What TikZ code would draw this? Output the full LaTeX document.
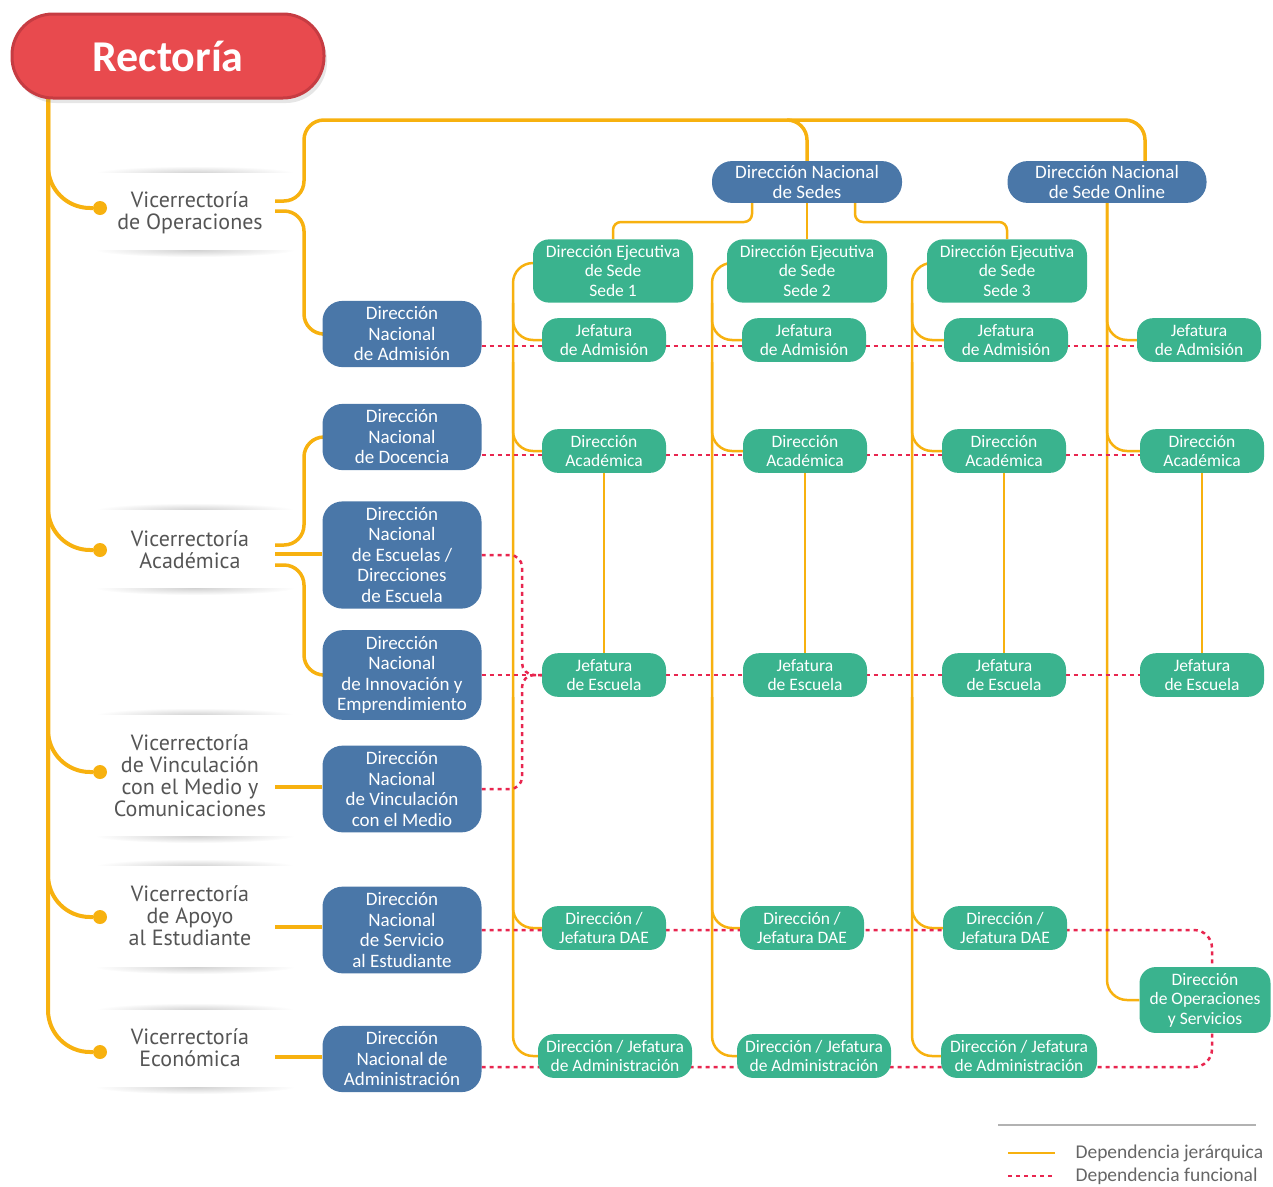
\documentclass[tikz,border=0pt]{standalone}
\usepackage{fontspec}
\setmainfont{Carlito}
\newfontfamily\vicefont{PT Sans}
\usetikzlibrary{positioning,calc,backgrounds,shadows}

\definecolor{hiercol}{HTML}{F7B10F}
\definecolor{funccol}{HTML}{E8264F}
\definecolor{bluebox}{HTML}{4A77A8}
\definecolor{greenbox}{HTML}{3AB38E}
\definecolor{rectred}{HTML}{E84A4E}
\definecolor{rectdark}{HTML}{C63C42}
\definecolor{vicegray}{HTML}{555555}

\tikzstyle{rector} = [rectangle, rounded corners=41pt, fill=rectred, draw=rectdark, line width=3pt,
    minimum width=312pt, minimum height=84pt, text=white, font=\fontsize{44}{44}\selectfont\bfseries,
    drop shadow={opacity=0.2, shadow xshift=3pt, shadow yshift=-5pt}]
\tikzstyle{vice} = [text=vicegray, align=center, minimum width=170pt, inner sep=0pt,
    font=\vicefont\fontsize{22}{22}\selectfont]
\tikzstyle{nacional} = [rectangle, rounded corners=20pt, fill=bluebox, text=white, align=center,
    minimum width=159pt, inner sep=6pt, font=\fontsize{19}{20.5}\selectfont]
\tikzstyle{sede} = [rectangle, rounded corners=16pt, fill=greenbox, text=white, align=center,
    minimum width=124pt, inner sep=6pt, font=\fontsize{17.5}{19.5}\selectfont]
\tikzstyle{dot} = [circle, fill=hiercol, inner sep=0pt, minimum size=14pt]
\tikzstyle{hier} = [draw=hiercol, line width=3.5pt]
\tikzstyle{hiersub} = [draw=hiercol, line width=2.5pt]
\tikzstyle{func} = [draw=funccol, line width=2.5pt, dash pattern=on 4pt off 4pt]
\tikzstyle{card} = [fill=white]
\tikzstyle{cardshade} = [inner color=black!18, outer color=white]
\tikzstyle{legendtext} = [anchor=west, text=black!60, font=\fontsize{19.5}{20}\selectfont]

\begin{document}
\begin{tikzpicture}[x=1pt,y=-1pt]
    \useasboundingbox (0,0) rectangle (1273,1186);

    % Place nodes
    \node[rector] (rect) at (168,56) {Rectoría};

    \node[vice] (vo) at (190,213) {Vicerrectoría\\de Operaciones};
    \node[vice] (va) at (190,550) {Vicerrectoría\\Académica};
    \node[vice] (vv) at (190,776) {Vicerrectoría\\de Vinculación\\con el Medio y\\Comunicaciones};
    \node[vice] (vae) at (190,916) {Vicerrectoría\\de Apoyo\\al Estudiante};
    \node[vice] (vec) at (190,1048) {Vicerrectoría\\Económica};

    \node[dot] (dvo) at (100,208) {};
    \node[dot] (dva) at (100,550) {};
    \node[dot] (dvv) at (100,772) {};
    \node[dot] (dvae) at (100,917) {};
    \node[dot] (dvec) at (100,1052) {};

    \node[nacional] (adm) at (402,334) {Dirección\\Nacional\\de Admisión};
    \node[nacional] (doc) at (402,437) {Dirección\\Nacional\\de Docencia};
    \node[nacional] (esc) at (402,555) {Dirección\\Nacional\\de Escuelas /\\Direcciones\\de Escuela};
    \node[nacional] (inn) at (402,675) {Dirección\\Nacional\\de Innovación y\\Emprendimiento};
    \node[nacional] (vin) at (402,789) {Dirección\\Nacional\\de Vinculación\\con el Medio};
    \node[nacional] (serv) at (402,930) {Dirección\\Nacional\\de Servicio\\al Estudiante};
    \node[nacional] (dnadm) at (402,1059) {Dirección\\Nacional de\\Administración};
    \node[nacional,minimum width=190pt,inner sep=4pt] (sedes) at (807,182) {Dirección Nacional\\de Sedes};
    \node[nacional,minimum width=199pt,inner sep=4pt] (online) at (1107,182) {Dirección Nacional\\de Sede Online};

    \node[sede,minimum width=160pt] (des1) at (613,271) {Dirección Ejecutiva\\de Sede\\Sede 1};
    \node[sede,minimum width=160pt] (des2) at (807,271) {Dirección Ejecutiva\\de Sede\\Sede 2};
    \node[sede,minimum width=160pt] (des3) at (1007,271) {Dirección Ejecutiva\\de Sede\\Sede 3};

    \node[sede] (ja1) at (604,340) {Jefatura\\de Admisión};
    \node[sede,right of=ja1,node distance=200pt] (ja2) {Jefatura\\de Admisión};
    \node[sede,right of=ja2,node distance=202pt] (ja3) {Jefatura\\de Admisión};
    \node[sede,right of=ja3,node distance=193pt] (ja4) {Jefatura\\de Admisión};

    \node[sede] (da1) at (604,451) {Dirección\\Académica};
    \node[sede] (da2) at (805,451) {Dirección\\Académica};
    \node[sede] (da3) at (1004,451) {Dirección\\Académica};
    \node[sede] (da4) at (1202,451) {Dirección\\Académica};

    \node[sede,below of=da1,node distance=224pt] (je1) {Jefatura\\de Escuela};
    \node[sede,below of=da2,node distance=224pt] (je2) {Jefatura\\de Escuela};
    \node[sede,below of=da3,node distance=224pt] (je3) {Jefatura\\de Escuela};
    \node[sede,below of=da4,node distance=224pt] (je4) {Jefatura\\de Escuela};

    \node[sede] (dae1) at (604,928) {Dirección /\\Jefatura DAE};
    \node[sede] (dae2) at (802,928) {Dirección /\\Jefatura DAE};
    \node[sede] (dae3) at (1005,928) {Dirección /\\Jefatura DAE};
    \node[sede,minimum width=131pt] (dos) at (1205,1000) {Dirección\\de Operaciones\\y Servicios};

    \node[sede,minimum width=154pt] (dja1) at (615,1056) {Dirección / Jefatura\\de Administración};
    \node[sede,minimum width=154pt] (dja2) at (814,1056) {Dirección / Jefatura\\de Administración};
    \node[sede,minimum width=156pt] (dja3) at (1019,1056) {Dirección / Jefatura\\de Administración};

    \node[legendtext] (lhier) at (1072,1153) {Dependencia jerárquica};
    \node[legendtext] (lfunc) at (1072,1176) {Dependencia funcional};

    \coordinate (spine) at (48,98);
    \coordinate (topbus) at (304,120);
    \coordinate (sbus) at (0,222);
    \coordinate (col1) at (513,0);
    \coordinate (col2) at (712,0);
    \coordinate (col3) at (912,0);
    \coordinate (fbus) at (522,0);

    \begin{pgfonlayer}{background}
    % Cards behind the Vicerrectorias
    \shade[cardshade] (195,173) ellipse (100 and 7); \shade[cardshade] (195,250) ellipse (100 and 7);
    \fill[card] (95,173) rectangle (295,250);
    \shade[cardshade] (195,510) ellipse (100 and 7); \shade[cardshade] (195,588) ellipse (100 and 7);
    \fill[card] (95,510) rectangle (295,588);
    \shade[cardshade] (195,715) ellipse (100 and 7); \shade[cardshade] (195,836) ellipse (100 and 7);
    \fill[card] (95,715) rectangle (295,836);
    \shade[cardshade] (195,866) ellipse (100 and 7); \shade[cardshade] (195,967) ellipse (100 and 7);
    \fill[card] (95,866) rectangle (295,967);
    \shade[cardshade] (195,1010) ellipse (100 and 7); \shade[cardshade] (195,1087) ellipse (100 and 7);
    \fill[card] (95,1010) rectangle (295,1087);

    % Draw edges
    \path [hier,line width=4pt,rounded corners=42pt] (spine) |- (dvo);
    \path [hier,line width=4pt,rounded corners=42pt] (spine) |- (dva);
    \path [hier,line width=4pt,rounded corners=42pt] (spine) |- (dvv);
    \path [hier,line width=4pt,rounded corners=42pt] (spine) |- (dvae);
    \path [hier,line width=4pt,rounded corners=42pt] (spine) |- (dvec);

    \path [hier,rounded corners=20pt] ([yshift=12pt]vo.east) -| (topbus) -| (sedes.north);
    \path [hier,rounded corners=20pt] ([xshift=-20pt]sedes.north |- topbus) -| ([xshift=38pt]online.north);
    \path [hier,rounded corners=20pt] ([yshift=2pt]vo.east) -| (topbus |- adm.west) -- (adm.west);

    \path [hier,rounded corners=20pt] ([yshift=5pt]va.east) -| (topbus |- doc.west) -- (doc.west);
    \path [hier] ([yshift=-4pt]va.east) coordinate (h1) -- (esc.west |- h1);
    \path [hier,rounded corners=20pt] ([yshift=-15pt]va.east) -| (topbus |- inn.west) -- (inn.west);
    \path [hier] ([yshift=-11pt]vv.east) coordinate (h2) -- (vin.west |- h2);
    \path [hier] ([yshift=-11pt]vae.east) coordinate (h3) -- (serv.west |- h3);
    \path [hier] ([yshift=-9pt]vec.east) coordinate (h4) -- (dnadm.west |- h4);

    \path [hiersub,rounded corners=8pt] ([xshift=-55pt]sedes.south) |- (des1.north |- sbus) -- (des1.north);
    \path [hiersub] (sedes.south) -- (des2.north);
    \path [hiersub,rounded corners=8pt] ([xshift=48pt]sedes.south) |- (des3.north |- sbus) -- (des3.north);

    \path [hiersub,rounded corners=20pt] ([yshift=8pt]des1.west) -| (col1 |- dja1.west) -- (dja1.west);
    \path [hiersub,rounded corners=20pt] (col1 |- des1.south) |- (ja1.west);
    \path [hiersub,rounded corners=20pt] (col1 |- ja1.south) |- (da1.west);
    \path [hiersub,rounded corners=20pt] (col1 |- je1.south) |- (dae1.west);

    \path [hiersub,rounded corners=20pt] ([yshift=8pt]des2.west) -| (col2 |- dja2.west) -- (dja2.west);
    \path [hiersub,rounded corners=20pt] (col2 |- des2.south) |- (ja2.west);
    \path [hiersub,rounded corners=20pt] (col2 |- ja2.south) |- (da2.west);
    \path [hiersub,rounded corners=20pt] (col2 |- je2.south) |- (dae2.west);

    \path [hiersub,rounded corners=20pt] ([yshift=8pt]des3.west) -| (col3 |- dja3.west) -- (dja3.west);
    \path [hiersub,rounded corners=20pt] (col3 |- des3.south) |- (ja3.west);
    \path [hiersub,rounded corners=20pt] (col3 |- ja3.south) |- (da3.west);
    \path [hiersub,rounded corners=20pt] (col3 |- je3.south) |- (dae3.west);

    \path [hiersub,rounded corners=20pt] (online.south) |- (dos.west);
    \path [hiersub,rounded corners=20pt] (online.south) |- (ja4.west);
    \path [hiersub,rounded corners=20pt] (online.south) |- (da4.west);

    \path [hiersub] (da1) -- (je1);
    \path [hiersub] (da2) -- (je2);
    \path [hiersub] (da3) -- (je3);
    \path [hiersub] (da4) -- (je4);

    \path [func] ([yshift=-12pt]adm.east) coordinate (f1) -- (ja4.west |- f1);
    \path [func] ([yshift=-18pt]doc.east) coordinate (f2) -- (da4.west |- f2);
    \path [func] (inn.east) -- (je4.west);
    \path [func,rounded corners=12pt] (esc.east) -| (fbus |- je1.west) -- (je1.west);
    \path [func,rounded corners=12pt] (vin.east) -| (fbus |- je1.west) -- (je1.west);
    \path [func,rounded corners=18pt] (serv.east) -| ([xshift=7pt]dos.north);
    \path [func,rounded corners=18pt] ([yshift=-8pt]dnadm.east) -| ([xshift=7pt]dos.south);
    \end{pgfonlayer}

    % Legend
    \draw[black!30,line width=1.5pt] (998,1125) -- (1256,1125);
    \path [hiersub] ([xshift=-64pt]lhier.west) -- ([xshift=-17pt]lhier.west);
    \path [func] ([xshift=-64pt]lfunc.west) -- ([xshift=-17pt]lfunc.west);
\end{tikzpicture}
\end{document}
